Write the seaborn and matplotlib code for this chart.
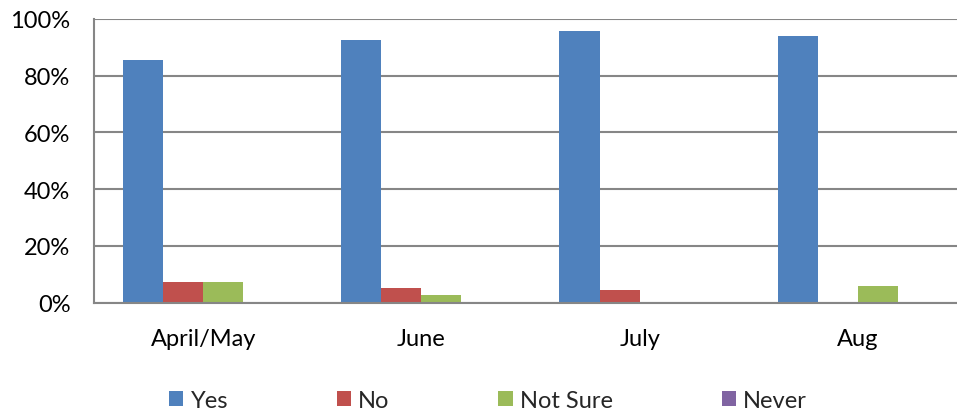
import pandas as pd
import matplotlib
matplotlib.use('Agg')
import matplotlib.pyplot as plt
from matplotlib.ticker import PercentFormatter
import seaborn as sns

# Data (shares of responses)
months = ['April/May', 'June', 'July', 'Aug']
responses = ['Yes', 'No', 'Not Sure', 'Never']
yes = [0.857, 0.925, 0.957, 0.941]
no = [0.071, 0.050, 0.043, 0.0]
not_sure = [0.071, 0.025, 0.0, 0.059]
never = [0.0, 0.0, 0.0, 0.0]
colors = ['#4F81BD', '#C0504D', '#9BBB59', '#8064A2']

rows = []
for resp, vals in zip(responses, [yes, no, not_sure, never]):
    for m, v in zip(months, vals):
        rows.append({'Month': m, 'Response': resp, 'Value': v})
df = pd.DataFrame(rows)

sns.set_style('white')
plt.rcParams['font.family'] = ['Lato', 'DejaVu Sans']

fig = plt.figure(figsize=(9.57, 4.14), dpi=100)
ax = fig.add_axes([94 / 957, 1 - 303.5 / 414, 873 / 957, 283.5 / 414])

sns.barplot(data=df, x='Month', y='Value', hue='Response', order=months,
            hue_order=responses, palette=colors, saturation=1, width=0.735,
            gap=0, errorbar=None, linewidth=0, ax=ax, legend=True)

ax.set_ylim(0, 1.0)
ax.set_yticks([0, 0.2, 0.4, 0.6, 0.8, 1.0])
ax.yaxis.set_major_formatter(PercentFormatter(1.0, decimals=0))
ax.grid(axis='y', color='#868686', linewidth=1.5)
ax.set_axisbelow(True)
for side in ['top', 'right']:
    ax.spines[side].set_visible(False)
for side in ['left', 'bottom']:
    ax.spines[side].set_color('#868686')
    ax.spines[side].set_linewidth(1.5)
ax.tick_params(axis='y', length=0, pad=17, labelsize=17, labelcolor='black')
ax.tick_params(axis='x', length=0, pad=18, labelsize=17, labelcolor='black')
ax.set_xlabel('')
ax.set_ylabel('')

handles, labels = ax.get_legend_handles_labels()
ax.get_legend().remove()
fig.legend(handles, labels, loc='center', bbox_to_anchor=(488 / 957, 0.031),
           ncol=4, frameon=False, fontsize=17, handlelength=0.62,
           handleheight=0.62, handletextpad=0.3, columnspacing=4.6,
           borderpad=0)

plt.savefig('out.png', dpi=100)
plt.close()
